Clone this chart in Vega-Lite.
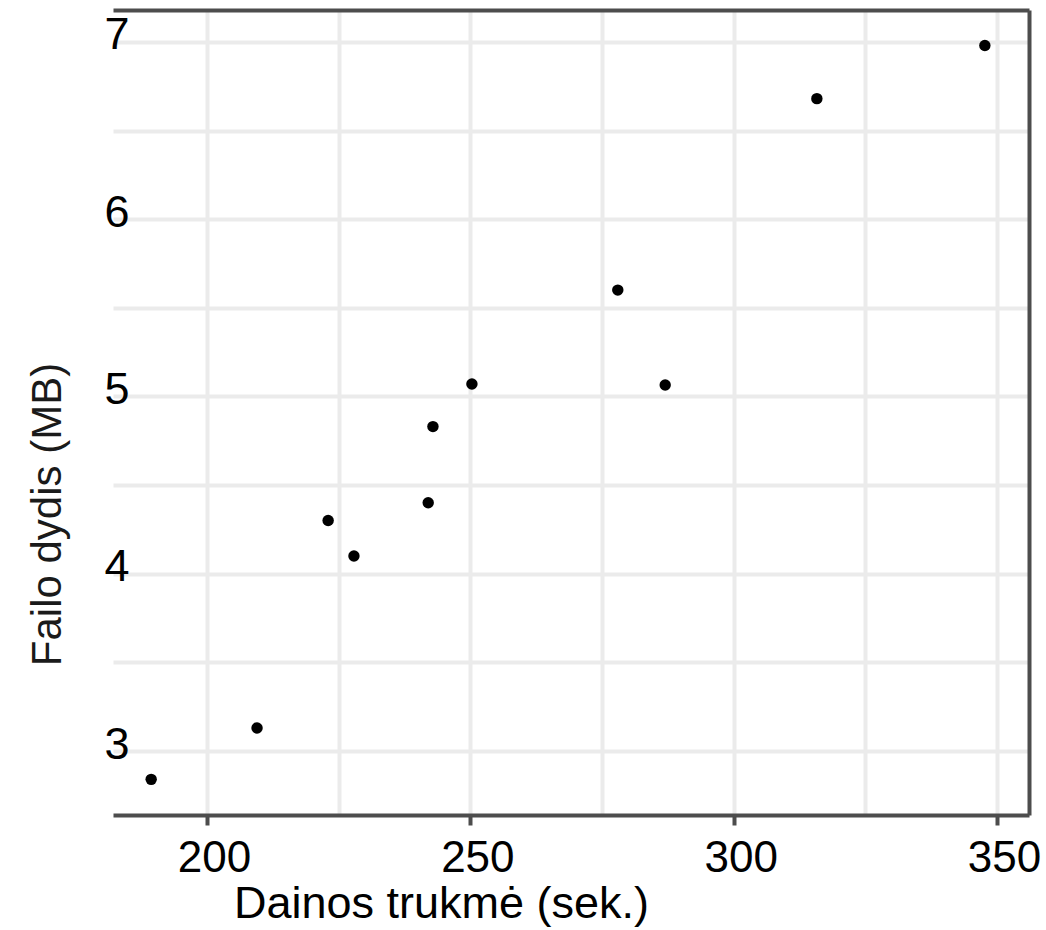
{
  "$schema": "https://vega.github.io/schema/vega-lite/v6.json",
  "width": 916,
  "height": 805,
  "autosize": "none",
  "padding": {"left": 113, "top": 10, "right": 17, "bottom": 115},
  "background": "white",
  "config": {"view": {"stroke": null}, "font": "Liberation Sans"},
  "data": {"values": [
    {"trukme": 189.4, "dydis": 2.84},
    {"trukme": 209.5, "dydis": 3.13},
    {"trukme": 223.0, "dydis": 4.30},
    {"trukme": 227.9, "dydis": 4.10},
    {"trukme": 242.0, "dydis": 4.40},
    {"trukme": 242.9, "dydis": 4.83},
    {"trukme": 250.3, "dydis": 5.07},
    {"trukme": 278.0, "dydis": 5.60},
    {"trukme": 287.0, "dydis": 5.065},
    {"trukme": 315.8, "dydis": 6.68},
    {"trukme": 347.7, "dydis": 6.98}
  ]},
  "layer": [
    {
      "mark": {"type": "point", "filled": true, "opacity": 0},
      "encoding": {
        "x": {"field": "trukme", "type": "quantitative",
          "scale": {"domain": [182.15, 356.08], "nice": false, "zero": false},
          "axis": {"orient": "top", "values": [225, 275, 325], "grid": true, "gridColor": "#ebebeb", "gridWidth": 4,
            "labels": false, "ticks": false, "domain": true, "domainColor": "#4d4d4d", "domainWidth": 4, "title": null}},
        "y": {"field": "dydis", "type": "quantitative",
          "scale": {"domain": [2.639, 7.18], "nice": false, "zero": false},
          "axis": {"orient": "right", "values": [3.5, 4.5, 5.5, 6.5], "grid": true, "gridColor": "#ebebeb", "gridWidth": 4,
            "labels": false, "ticks": false, "domain": true, "domainColor": "#4d4d4d", "domainWidth": 4, "title": null}}
      }
    },
    {
      "mark": {"type": "circle", "color": "black", "size": 130, "opacity": 1},
      "encoding": {
        "x": {"field": "trukme", "type": "quantitative",
          "scale": {"domain": [182.15, 356.08], "nice": false, "zero": false},
          "axis": {"orient": "bottom", "values": [200, 250, 300, 350], "grid": true, "gridColor": "#ebebeb", "gridWidth": 4,
            "domain": true, "domainColor": "#4d4d4d", "domainWidth": 4,
            "ticks": true, "tickColor": "#4d4d4d", "tickWidth": 4, "tickSize": 10,
            "labelFontSize": 44, "labelColor": "black", "labelPadding": 11, "labelOffset": 7,
            "title": "Dainos trukmė (sek.)", "titleFontSize": 45, "titleFontWeight": "normal", "titleColor": "black",
            "titleX": 328, "titleY": 102, "titleBaseline": "alphabetic", "titleAlign": "center"}},
        "y": {"field": "dydis", "type": "quantitative",
          "scale": {"domain": [2.639, 7.18], "nice": false, "zero": false},
          "axis": {"orient": "left", "values": [3, 4, 5, 6, 7], "grid": true, "gridColor": "#ebebeb", "gridWidth": 4,
            "domain": false, "ticks": false, "tickSize": 0,
            "labelFontSize": 45, "labelColor": "black", "labelPadding": -16, "labelOffset": -7,
            "title": "Failo dydis (MB)", "titleFontSize": 42, "titleFontWeight": "normal", "titleColor": "#1a1a1a",
            "titleAngle": -90, "titleX": -53, "titleY": 504, "titleBaseline": "alphabetic", "titleAlign": "center"}}
      }
    }
  ],
  "resolve": {"axis": {"x": "independent", "y": "independent"}}
}
